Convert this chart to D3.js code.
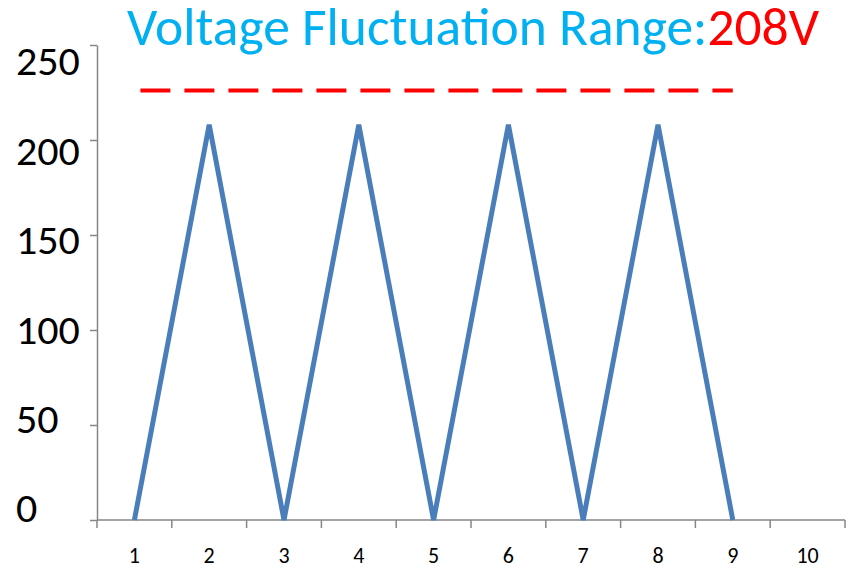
<!DOCTYPE html>
<html>
<head>
<meta charset="utf-8">
<script src="https://cdn.jsdelivr.net/npm/d3@7"></script>
<style>
  body { margin: 0; background: #fff; }
  svg { display: block; font-family: Carlito, Calibri, "Open Sans", sans-serif; }
</style>
</head>
<body>
<svg width="847" height="568"></svg>
<script>
// chart data
const categories = [1, 2, 3, 4, 5, 6, 7, 8, 9, 10];
const voltage = [0, 208, 0, 208, 0, 208, 0, 208, 0];
const yTicks = [0, 50, 100, 150, 200, 250];
const limitValue = 226;
const limitRange = [1, 9];
const titleText = 'Voltage Fluctuation Range:';
const titleValue = '208V';

const svg = d3.select('svg');
const margin = { top: 45, right: 2, bottom: 48, left: 97 };
const width = 847, height = 568;

const x = d3.scaleBand()
  .domain(categories)
  .range([margin.left, width - margin.right]);

const y = d3.scaleLinear()
  .domain([0, 250])
  .range([height - margin.bottom, margin.top]);

// the value labels sit on a slightly tighter spread than the ticks
const labelY = d3.scaleLinear()
  .domain([0, 250])
  .range([y(0) - 11, y(250) + 17]);

const cx = (d) => x(d) + x.bandwidth() / 2;

// y axis
const yAxis = svg.append('g')
  .attr('transform', `translate(${margin.left},0)`)
  .call(d3.axisLeft(y).tickValues(yTicks).tickSize(7).tickSizeOuter(0).tickFormat(''));
yAxis.select('.domain').attr('stroke', '#868686').attr('stroke-width', 1.5);
yAxis.selectAll('.tick line').attr('stroke', '#868686').attr('stroke-width', 1.5);

svg.append('g')
  .selectAll('text')
  .data(yTicks)
  .enter()
  .append('text')
  .attr('x', 16)
  .attr('y', (d) => labelY(d))
  .attr('dy', '0.32em')
  .attr('fill', '#000')
  .style('font-size', '42px')
  .text((d) => d);

// x axis with ticks between categories
const xAxis = svg.append('g')
  .attr('transform', `translate(0,${y(0)})`);
xAxis.append('line')
  .attr('x1', margin.left).attr('x2', width - margin.right)
  .attr('stroke', '#868686').attr('stroke-width', 1.5);
const bounds = categories.map((d) => x(d)).concat([x(categories[categories.length - 1]) + x.bandwidth()]);
xAxis.selectAll('line.tk')
  .data(bounds)
  .enter()
  .append('line')
  .attr('class', 'tk')
  .attr('x1', (d) => d).attr('x2', (d) => d)
  .attr('y1', 0).attr('y2', 8)
  .attr('stroke', '#868686').attr('stroke-width', 1.5);
xAxis.selectAll('text')
  .data(categories)
  .enter()
  .append('text')
  .attr('x', (d) => cx(d))
  .attr('y', 43)
  .attr('text-anchor', 'middle')
  .attr('fill', '#000')
  .style('font-size', '22px')
  .text((d) => d);

// voltage line
const line = d3.line()
  .x((d, i) => cx(categories[i]))
  .y((d) => y(d));

svg.append('path')
  .datum(voltage)
  .attr('d', line)
  .attr('fill', 'none')
  .attr('stroke', '#4A7EBB')
  .attr('stroke-width', 5)
  .attr('stroke-linejoin', 'miter');

// red dashed limit
svg.append('line')
  .attr('x1', cx(limitRange[0]) + 6)
  .attr('x2', cx(limitRange[1]))
  .attr('y1', y(limitValue))
  .attr('y2', y(limitValue))
  .attr('stroke', '#FF0000')
  .attr('stroke-width', 4)
  .attr('stroke-dasharray', '30,14');

// title
const title = svg.append('text')
  .attr('x', 127)
  .attr('y', 45)
  .style('font-size', '53.5px');
title.append('tspan').attr('fill', '#00B0F0').text(titleText);
title.append('tspan').attr('fill', '#FF0000').text(titleValue);
</script>
</body>
</html>
